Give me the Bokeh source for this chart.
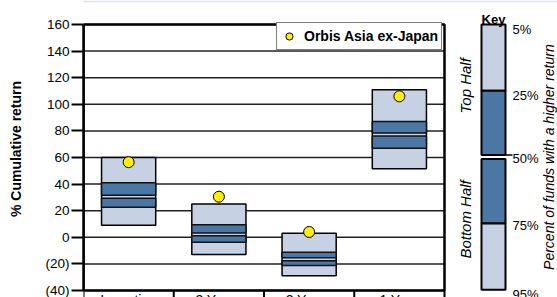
import math
import numpy as np
from bokeh.plotting import figure
from bokeh.models import Range1d, FixedTicker, CustomJSTickFormatter, Legend, LegendItem, BoxAnnotation
from bokeh.core.properties import value
from bokeh.embed import file_html
from bokeh.resources import INLINE

# ---- data ----
categories = ["Inception", "3 Years", "2 Years", "1 Year"]
pct5 = [60, 25, 3, 111]          # top of range (5% of funds higher)
pct25 = [41, 9.5, -11.2, 87]
pct50 = [30.5, 2.2, -16.5, 77.3]
pct75 = [22.6, -3.7, -21.2, 67]
pct95 = [9, -13, -29, 51.5]      # bottom of range
orbis = [56.5, 30.5, 4, 106]
y_ticks = [-40, -20, 0, 20, 40, 60, 80, 100, 120, 140, 160]
key_labels = ["5%", "25%", "50%", "75%", "95%"]

LIGHT = "#c6d1e3"
DARK = "#4a77a3"
FONT = "Liberation Sans"
GAP = 1.1  # half gap around median, data units

# ---- layout constants (pixels) ----
W, H = 557, 297
LEFT = 83          # frame left
Y_TOP_PX = 24      # pixel row of the top tick
Y_BOT_PX = 290     # pixel row of the bottom tick
CAT_PX = 90.25     # width of one category
KEY_ORIGIN = 454   # x where key coordinates start
KEY_TOP = 24       # pixel row of the 5% mark
KEY_STEP = 66.3    # px per key band

n = len(categories)
ymin, ymax = y_ticks[0], y_ticks[-1]
ppu = (Y_BOT_PX - Y_TOP_PX) / (ymax - ymin)
y_hi = ymax + Y_TOP_PX / ppu
y_lo = ymin - (H - Y_BOT_PX) / ppu
x_end = (W - LEFT) / CAT_PX

x = (np.arange(n) + 0.5).tolist()
mid_hi = [m + GAP for m in pct50]
mid_lo = [m - GAP for m in pct50]

p = figure(width=W, height=H, x_range=Range1d(0, x_end),
           y_range=Range1d(y_lo, y_hi), x_axis_type=None,
           output_backend="svg", toolbar_location=None,
           min_border_left=LEFT, min_border_right=0, min_border_top=0, min_border_bottom=0)
p.outline_line_color = None
p.background_fill_color = "white"
p.border_fill_color = "white"
p.grid.visible = False

ax = p.yaxis[0]
ax.bounds = (ymin, ymax)
ax.ticker = FixedTicker(ticks=y_ticks)
ax.formatter = CustomJSTickFormatter(code="return tick < 0 ? '(' + Math.abs(tick) + ')' : String(tick);")
ax.major_label_text_font = FONT
ax.major_label_text_font_size = "13.5px"
ax.major_label_text_color = "black"
ax.major_label_standoff = 2
ax.major_tick_out = 12
ax.major_tick_in = 0
ax.major_tick_line_width = 2
ax.major_tick_line_color = "black"
ax.minor_tick_line_color = None
ax.axis_line_width = 2.5
ax.axis_line_color = "black"
ax.axis_label = "% Cumulative return"
ax.axis_label_text_font = FONT
ax.axis_label_text_font_size = "14px"
ax.axis_label_text_font_style = "bold"
ax.axis_label_text_color = "black"
ax.axis_label_standoff = 18

# light blue strip along the top of the page
p.add_layout(BoxAnnotation(left=0, right=W, top=0, bottom=1.7,
                           left_units="canvas", right_units="canvas",
                           top_units="canvas", bottom_units="canvas",
                           fill_color="#d5e5f5", fill_alpha=1, line_color=None))

# gridlines across the plot area only
p.segment(x0=[0] * len(y_ticks), x1=[n] * len(y_ticks), y0=y_ticks, y1=y_ticks,
          line_color="#222222", line_width=1.5)

p.vbar(x=x, width=0.6, top=pct5, bottom=pct95, fill_color=LIGHT,
       line_color="black", line_width=1.5)
p.vbar(x=x, width=0.6, top=pct25, bottom=mid_hi, fill_color=DARK,
       line_color="#111111", line_width=1.5)
p.vbar(x=x, width=0.6, top=mid_lo, bottom=pct75, fill_color=DARK,
       line_color="#111111", line_width=1.5)

# plot area border
p.quad(left=[0], right=[n], top=[ymax], bottom=[ymin], fill_color=None,
       line_color="black", line_width=2.5)

# category label cells below the plot
bounds_x = list(range(n + 1))
p.segment(x0=bounds_x, x1=bounds_x, y0=[ymin] * (n + 1), y1=[y_lo] * (n + 1),
          line_color="black", line_width=2)
p.text(x=x, y=[ymin - 1.2 / ppu] * n, text=categories, text_font=value(FONT),
       text_font_size=value("14px"), text_align="center", text_baseline="top",
       text_color="black")

dots = p.scatter(x=x, y=orbis, size=11, fill_color="#ffee00", line_color="black", line_width=1)

legend = Legend(items=[LegendItem(label="Orbis Asia ex-Japan", renderers=[dots])],
                location=(0, 0), margin=0, padding=3, spacing=0,
                glyph_width=18, glyph_height=20, label_height=20, label_standoff=6,
                border_line_color="black", border_line_width=1.5,
                background_fill_color="white", background_fill_alpha=1,
                label_text_font=FONT, label_text_font_size="14px",
                label_text_font_style="bold", label_text_color="black")
p.add_layout(legend)
legend.location = (n * CAT_PX - 168, H - Y_TOP_PX - 26)

# ---- key ----
p.extra_x_ranges = {"kx": Range1d(LEFT - KEY_ORIGIN, W - KEY_ORIGIN)}
p.extra_y_ranges = {"ky": Range1d(4 + (H - KEY_TOP - 4 * KEY_STEP) / KEY_STEP, -KEY_TOP / KEY_STEP)}
kg = 2 / KEY_STEP
p.quad(left=[27] * 4, right=[51] * 4,
       top=[0, 1, 2 + kg, 3], bottom=[1, 2 - kg, 3, 4],
       fill_color=[LIGHT, DARK, DARK, LIGHT], line_color="black", line_width=2,
       x_range_name="kx", y_range_name="ky")
p.segment(x0=[51], y0=[2 - kg], x1=[58], y1=[2 - kg], line_color="black", line_width=1.5,
          x_range_name="kx", y_range_name="ky")
p.text(x=[39], y=[-4.7 / KEY_STEP], text=["Key"], text_font=value(FONT),
       text_font_size=value("13px"), text_font_style="bold", text_align="center",
       text_baseline="alphabetic", text_color="black", x_range_name="kx", y_range_name="ky")
key_y = [0 + 5 / KEY_STEP, 1 + 5 / KEY_STEP, 2 + 1 / KEY_STEP, 3 + 2 / KEY_STEP, 4 + 5 / KEY_STEP]
p.text(x=[58] * 5, y=key_y, text=key_labels, text_font=value(FONT),
       text_font_size=value("13px"), text_align="left", text_baseline="middle",
       text_color="black", x_range_name="kx", y_range_name="ky")
p.text(x=[11, 11], y=[1 - 5 / KEY_STEP, 3 - 4 / KEY_STEP], text=["Top Half", "Bottom Half"],
       text_font=value(FONT), text_font_size=value("15px"), text_font_style="italic",
       angle=math.pi / 2, text_align="center", text_baseline="middle", text_color="black",
       x_range_name="kx", y_range_name="ky")
p.text(x=[94], y=[2], text=["Percent of funds with a higher return"], text_font=value(FONT),
       text_font_size=value("14px"), text_font_style="italic", angle=math.pi / 2,
       text_align="center", text_baseline="middle", text_color="black",
       x_range_name="kx", y_range_name="ky")

open("out.html", "w").write(file_html(p, INLINE))
